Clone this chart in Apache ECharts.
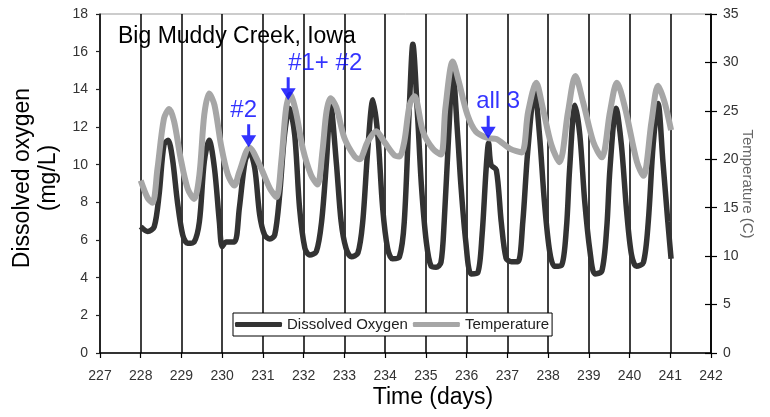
<!DOCTYPE html>
<html>
<head>
<meta charset="utf-8">
<script src="https://cdn.jsdelivr.net/npm/echarts@6/dist/echarts.min.js"></script>
<style>
html,body{margin:0;padding:0;background:#fff;}
#chart{width:770px;height:417px;}
</style>
</head>
<body>
<div id="chart"></div>
<script>
// ---- data ----
var xTicks = [227, 242, 1];            // min, max, step (days)
var doTicks = [0, 18, 2];              // left axis min, max, step (mg/L)
var tempTicks = [0, 35, 5];            // right axis min, max, step (C)

var doDays = [228.00,228.17,228.33,228.45,228.57,228.67,228.78,228.90,229.03,229.15,229.31,229.44,229.56,229.68,229.81,229.93,230.00,230.10,230.30,230.42,230.56,230.67,230.80,230.92,231.04,231.17,231.29,231.41,231.53,231.65,231.78,231.90,232.03,232.15,232.31,232.44,232.56,232.66,232.80,232.92,233.04,233.17,233.33,233.45,233.57,233.70,233.82,233.94,234.06,234.18,234.35,234.47,234.60,234.68,234.80,234.89,235.01,235.13,235.25,235.37,235.45,235.56,235.66,235.78,235.86,235.98,236.11,236.27,236.38,236.48,236.54,236.60,236.73,236.85,236.97,237.10,237.26,237.38,237.50,237.67,237.79,237.91,238.04,238.16,238.33,238.45,238.53,238.66,238.78,238.90,239.03,239.15,239.32,239.44,239.52,239.67,239.80,239.93,240.05,240.17,240.34,240.46,240.58,240.70,240.82,240.94,241.02];
var doValues = [6.71,6.45,6.7,8.39,11.05,11.3,10.3,8.04,6.27,5.83,5.9,6.97,10.16,11.3,9.81,6.97,5.65,5.9,5.9,7.68,10.16,10.7,9.8,7.33,6.27,6.05,6.27,8.39,11.58,13.0,11.58,7.68,5.56,5.2,5.38,6.97,10.16,13.2,10.16,6.97,5.56,5.11,5.3,6.97,10.69,13.45,11.58,7.68,5.56,5.0,5.1,6.97,13.35,16.4,12.46,8.92,5.91,4.6,4.55,4.8,6.97,11.58,15.0,11.58,8.92,5.91,4.2,4.25,6.27,9.8,11.15,9.98,9.72,6.97,5.03,4.85,4.85,6.97,10.69,13.95,11.58,8.04,5.38,4.6,4.65,6.62,9.8,13.15,11.58,8.04,5.38,4.2,4.35,6.62,9.8,13.0,11.05,7.5,5.2,4.6,4.8,6.97,11.05,13.25,10.16,6.97,5.0];

var tempDays = [228.00,228.17,228.29,228.41,228.57,228.70,228.82,228.98,229.15,229.31,229.44,229.56,229.68,229.81,229.97,230.14,230.30,230.42,230.67,230.92,231.17,231.33,231.45,231.57,231.67,231.81,231.98,232.18,232.34,232.46,232.56,232.66,232.80,233.00,233.25,233.37,233.57,233.78,233.98,234.23,234.35,234.47,234.60,234.72,234.93,235.17,235.37,235.48,235.66,235.81,236.02,236.23,236.52,236.73,237.06,237.35,237.51,237.71,237.87,238.08,238.28,238.49,238.67,238.86,239.11,239.32,239.52,239.69,239.89,240.18,240.34,240.54,240.70,240.86,241.02];
var tempValues = [17.8,16.0,15.5,19.0,24.2,25.2,23.9,20.1,17.0,15.9,18.4,24.6,26.8,25.6,21.5,18.4,17.3,18.7,21.2,19.4,17.0,16.1,19.75,25.3,26.7,24.9,21.1,18.4,17.4,20.8,24.9,26.3,25.4,22.2,20.3,20.0,21.8,22.9,21.8,20.4,20.3,21.8,25.6,26.5,22.85,21.1,20.5,25.3,30.1,28.0,24.6,22.85,22.2,22.1,21.1,20.7,24.9,27.9,25.3,21.5,19.7,24.9,28.6,25.9,21.8,20.2,24.9,27.9,25.3,19.75,18.3,23.9,27.6,25.9,23.0];

var noteDays = [230.65, 231.62, 236.53];
var noteValues = [10.92, 13.42, 11.38];
var noteTexts = ['#2', '#1+ #2', 'all 3'];

// ---- styling ----
var noteLabelOffsets = [[-5, 0], [37, 0], [10, 0]];
var FONT = 'Liberation Sans, Arial, sans-serif';

function pairs(xs, ys) { return xs.map(function (x, i) { return [x, ys[i]]; }); }

var noteData = noteDays.map(function (d, i) {
  return {
    value: [d, noteValues[i]],
    name: noteTexts[i],
    label: { offset: noteLabelOffsets[i] }
  };
});

var chart = echarts.init(document.getElementById('chart'), null, { renderer: 'canvas' });
chart.setOption({
  animation: false,
  backgroundColor: '#fff',
  textStyle: { fontFamily: FONT },
  grid: { left: 100, right: 59, top: 14, bottom: 64, show: true, borderColor: '#999', borderWidth: 1, backgroundColor: 'transparent' },
  legend: {
    data: ['Dissolved Oxygen', 'Temperature'],
    left: 233, top: 313,
    orient: 'horizontal',
    backgroundColor: '#fff',
    borderColor: '#000', borderWidth: 1,
    padding: [4, 3, 4, 2],
    itemWidth: 47, itemHeight: 5, itemGap: 5,
    icon: 'roundRect',
    textStyle: { fontSize: 15, color: '#222', fontFamily: FONT }
  },
  xAxis: {
    type: 'value', min: xTicks[0], max: xTicks[1], interval: xTicks[2],
    axisLine: { lineStyle: { color: '#000', width: 1.5 } },
    axisTick: { show: true, length: 5, lineStyle: { color: '#000', width: 1.2 } },
    axisLabel: { fontSize: 14, color: '#333', margin: 16, fontFamily: FONT },
    splitLine: { show: true, lineStyle: { color: '#000', width: 1.5 } }
  },
  yAxis: [
    {
      type: 'value', min: doTicks[0], max: doTicks[1], interval: doTicks[2],
      position: 'left',
      axisLine: { show: true, lineStyle: { color: '#222', width: 1.5 } },
      axisTick: { show: true, length: 4, lineStyle: { color: '#222', width: 1.2 } },
      axisLabel: { fontSize: 14, color: '#333', margin: 12, fontFamily: FONT },
      splitLine: { show: false }
    },
    {
      type: 'value', min: tempTicks[0], max: tempTicks[1], interval: tempTicks[2],
      position: 'right',
      axisLine: { show: true, lineStyle: { color: '#000', width: 1.5 } },
      axisTick: { show: true, length: 6, lineStyle: { color: '#000', width: 1.2 } },
      axisLabel: { fontSize: 14, color: '#333', margin: 12, fontFamily: FONT },
      splitLine: { show: false }
    },
    {
      type: 'value', min: tempTicks[0], max: tempTicks[1], interval: tempTicks[2],
      position: 'right',
      axisLine: { show: false },
      axisTick: { show: true, inside: true, length: 6, lineStyle: { color: '#000', width: 1.2 } },
      axisLabel: { show: false },
      splitLine: { show: false }
    }
  ],
  series: [
    {
      name: 'Dissolved Oxygen', type: 'line', yAxisIndex: 0,
      data: pairs(doDays, doValues),
      symbol: 'none', showSymbol: false,
      smooth: 0.3,
      itemStyle: { color: '#333' },
      lineStyle: { color: '#333', width: 5.5 },
      z: 3
    },
    {
      name: 'Temperature', type: 'line', yAxisIndex: 1,
      data: pairs(tempDays, tempValues),
      symbol: 'none', showSymbol: false,
      smooth: 0.3,
      itemStyle: { color: '#a6a6a6' },
      lineStyle: { color: '#a6a6a6', width: 6 },
      z: 4
    },
    {
      name: 'notes', type: 'scatter', yAxisIndex: 0,
      data: noteData,
      symbol: 'path://M6,0 L9,0 L9,11 L15,11 L7.5,23 L0,11 L6,11 Z',
      symbolSize: [15, 23],
      symbolOffset: [0, -11.5],
      itemStyle: { color: '#0000ff' },
      label: {
        show: true, position: 'top', distance: 2,
        formatter: '{b}', color: '#0000ff', fontSize: 24, fontFamily: FONT
      },
      z: 6
    }
  ],
  graphic: [
    { type: 'text', x: 118, y: 37, z: 10,
      style: { text: 'Big Muddy Creek, Iowa', font: '23px ' + FONT, fill: '#000', align: 'left', verticalAlign: 'middle' } },
    { type: 'text', x: 36, y: 178, rotation: Math.PI / 2, z: 10,
      style: { text: 'Dissolved oxygen\n(mg/L)', font: '23px ' + FONT, lineHeight: 26, fill: '#000', align: 'center', verticalAlign: 'middle' } },
    { type: 'text', x: 433, y: 398, z: 10,
      style: { text: 'Time (days)', font: '23px ' + FONT, fill: '#000', align: 'center', verticalAlign: 'middle' } },
    { type: 'text', x: 747, y: 184, rotation: -Math.PI / 2, z: 10,
      style: { text: 'Temperature (C)', font: '15px ' + FONT, fill: '#666', align: 'center', verticalAlign: 'middle' } }
  ]
});
</script>
</body>
</html>
